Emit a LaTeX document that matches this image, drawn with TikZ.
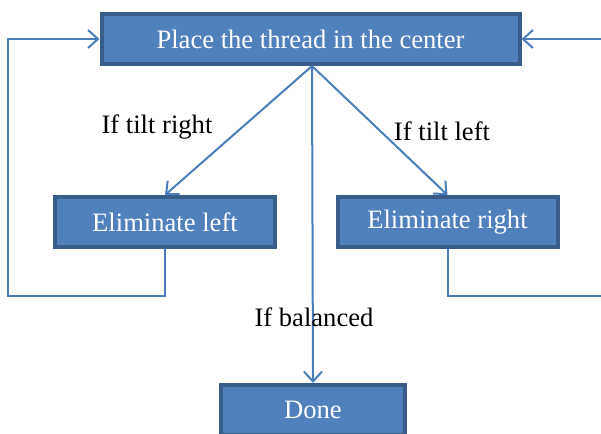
\documentclass[tikz,border=0pt]{standalone}
\usepackage{fontspec}
\setmainfont{Liberation Serif}
\usepackage{tikz}
\usetikzlibrary{arrows.meta,positioning}
\definecolor{boxfill}{HTML}{4F81BD}
\definecolor{boxline}{HTML}{385D8A}
\definecolor{linkline}{HTML}{4A7EBB}
\tikzset{
  stepbox/.style={draw=boxline,line width=2pt,fill=boxfill,text=white,
    minimum height=25pt,inner sep=0pt,font=\fontsize{13.3}{16}\selectfont},
  link/.style={draw=linkline,line width=1pt,-{Straight Barb[length=5pt,width=9pt,line width=1pt]}},
  cond/.style={font=\fontsize{13.3}{16}\selectfont,inner sep=0pt}
}
\begin{document}
\begin{tikzpicture}[x=0.5pt,y=-0.5pt]
    \clip (0,0) rectangle (601,434);
    \node[stepbox,minimum width=209pt] (place) at (310.5,39) {Place the thread in the center};
    \node[stepbox,minimum width=110pt] (elimL) at (165,222) {Eliminate left};
    \node[stepbox,minimum width=110pt] (elimR) at (447.5,222) {Eliminate right};
    \node[stepbox,minimum width=92pt] (done) at (313,410) {Done};
    \coordinate (fork) at (312,66);
    \draw[link] (fork)--(elimL.north);
    \draw[link] (fork)--(elimR.north);
    \draw[link] (fork)--(done.north);
    % feedback loops
    \draw[link] (elimL.south)|-(8,296)--(8,39)--(place.west);
    \draw[link] (elimR.south)|-(640,296)--(640,39)--(place.east);
    \node[cond] (tiltR) at (157,127) {If tilt right};
    \node[cond] (tiltL) at (442,131) {If tilt left};
    \node[cond] (bal) at (314,317) {If balanced};
  \end{tikzpicture}
\end{document}
